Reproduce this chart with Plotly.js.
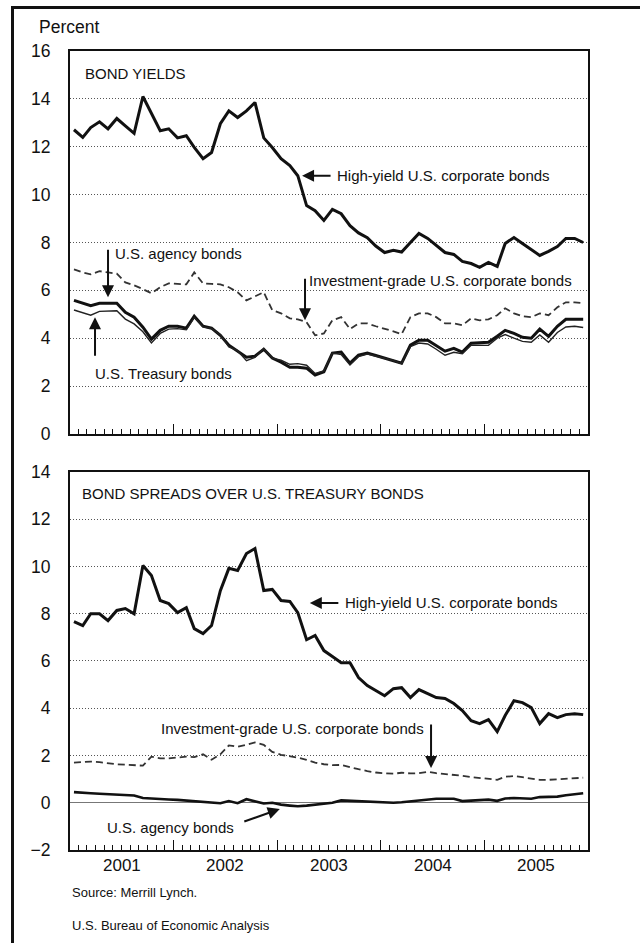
<!DOCTYPE html>
<html>
<head>
<meta charset="utf-8">
<script src="https://cdn.plot.ly/plotly-3.0.1.min.js"></script>
<style>
  html, body { margin: 0; padding: 0; background: #ffffff; }
  #wrap { position: relative; width: 640px; height: 943px; overflow: hidden; }
  #chart { position: absolute; left: 0; top: 0; width: 640px; height: 943px; }
  #frame { position: absolute; left: 11px; top: 6px; width: 640px; height: 950px;
           border-left: 3px solid #111; border-top: 3px solid #111; pointer-events: none; }
</style>
</head>
<body>
<div id="wrap">
  <div id="chart"></div>
  <div id="frame"></div>
</div>
<script>
// ---------- DATA (monthly, Jan 2001 - Dec 2005) ----------
const years = [2001, 2002, 2003, 2004, 2005];
const yearLabels = ["2001", "2002", "2003", "2004", "2005"];

// Bond yields, percent
const highYieldYield = [12.71,12.39,12.8,13.04,12.75,13.18,12.87,12.56,14.1,13.37,
  12.67,12.75,12.37,12.46,11.97,11.5,11.76,12.96,13.5,13.22,
  13.5,13.85,12.37,11.97,11.5,11.21,10.79,9.54,9.33,8.92,
  9.38,9.2,8.7,8.4,8.2,7.85,7.58,7.67,7.6,8.0,
  8.38,8.17,7.88,7.58,7.5,7.21,7.12,6.96,7.17,7.0,
  7.96,8.21,7.96,7.71,7.46,7.63,7.83,8.17,8.17,8.0];
const invGradeYield = [6.88,6.75,6.67,6.8,6.75,6.7,6.33,6.21,6.05,5.88,
  6.13,6.29,6.27,6.25,6.75,6.29,6.27,6.25,6.13,5.92,
  5.58,5.75,5.92,5.17,5.04,4.83,4.79,4.67,4.12,4.2,
  4.75,4.88,4.38,4.62,4.62,4.5,4.4,4.29,4.17,4.88,
  5.04,5.04,4.88,4.62,4.62,4.54,4.83,4.75,4.79,4.96,
  5.25,5.04,4.92,4.88,5.04,4.96,5.29,5.5,5.5,5.46];
const agencyYield = [5.58,5.45,5.36,5.46,5.46,5.46,5.08,4.88,4.46,3.96,
  4.33,4.5,4.5,4.42,4.92,4.5,4.42,4.12,3.71,3.46,
  3.21,3.25,3.54,3.17,3.0,2.79,2.79,2.75,2.46,2.6,
  3.38,3.42,2.96,3.29,3.38,3.28,3.18,3.07,2.96,3.71,
  3.92,3.92,3.71,3.46,3.58,3.42,3.79,3.81,3.83,4.08,
  4.33,4.2,4.04,4.0,4.38,4.08,4.5,4.79,4.79,4.79];
const treasuryYield = [5.18,5.05,4.96,5.12,5.15,5.15,4.8,4.6,4.27,3.8,
  4.2,4.38,4.4,4.35,4.86,4.47,4.41,4.14,3.64,3.48,
  3.06,3.2,3.57,3.17,3.08,2.91,2.94,2.87,2.53,2.63,
  3.38,3.32,2.88,3.23,3.34,3.26,3.18,3.07,2.94,3.65,
  3.8,3.76,3.54,3.29,3.41,3.35,3.71,3.71,3.7,4.0,
  4.15,4.0,3.87,3.83,4.14,3.83,4.24,4.47,4.5,4.45];

// Spreads over U.S. Treasury bonds, percentage points
const highYieldSpread = [7.67,7.5,8.0,8.0,7.71,8.14,8.22,8.0,10.04,9.62,
  8.56,8.43,8.05,8.26,7.37,7.16,7.5,8.98,9.92,9.83,
  10.55,10.76,8.98,9.03,8.56,8.52,8.05,6.9,7.08,6.44,
  6.19,5.93,5.93,5.3,4.96,4.75,4.53,4.83,4.87,4.45,
  4.79,4.62,4.45,4.41,4.2,3.9,3.47,3.35,3.52,3.01,
  3.69,4.32,4.24,4.03,3.35,3.77,3.6,3.73,3.77,3.73];
const invGradeSpread = [1.7,1.72,1.74,1.72,1.66,1.63,1.61,1.59,1.57,1.95,
  1.88,1.88,1.92,1.95,1.93,2.05,1.82,2.05,2.43,2.37,
  2.45,2.55,2.45,2.15,2.03,1.97,1.91,1.82,1.7,1.63,
  1.59,1.6,1.5,1.42,1.34,1.28,1.25,1.23,1.27,1.24,
  1.25,1.31,1.25,1.22,1.19,1.14,1.09,1.06,1.01,0.97,
  1.1,1.13,1.08,1.02,0.97,0.97,1.0,1.02,1.04,1.06];
const agencySpread = [0.45,0.44,0.4,0.38,0.36,0.34,0.33,0.31,0.2,0.17,
  0.15,0.14,0.12,0.09,0.07,0.03,0.01,-0.02,0.07,-0.02,
  0.15,0.05,-0.03,0.0,-0.08,-0.12,-0.15,-0.12,-0.07,-0.03,
  0.0,0.1,0.08,0.06,0.04,0.02,0.0,0.0,0.02,0.06,
  0.12,0.16,0.17,0.17,0.17,0.07,0.08,0.1,0.13,0.08,
  0.18,0.2,0.17,0.17,0.24,0.25,0.26,0.32,0.36,0.4];

const yieldTicks = [0, 2, 4, 6, 8, 10, 12, 14, 16];
const spreadTicks = [-2, 0, 2, 4, 6, 8, 10, 12, 14];

// ---------- build month dates (mid-month) ----------
const months = [];
years.forEach(y => { for (let m = 1; m <= 12; m++) months.push(y + "-" + String(m).padStart(2, "0") + "-15"); });
const yearStarts = years.concat([2006]).map(y => y + "-01-01");
const midYears = years.map(y => y + "-07-02");
const xRange = ["2001-01-01", "2006-01-01"];

const FONT = "Liberation Sans, Arial, Helvetica, sans-serif";
const INK = "#111";

function line(x, y, xa, ya, width, dash, color) {
  return { type: "scatter", mode: "lines", x: x, y: y, xaxis: xa, yaxis: ya,
           line: { color: color || INK, width: width, dash: dash || "solid" },
           hoverinfo: "skip", showlegend: false };
}

const traces = [
  line(months, invGradeYield, "x", "y", 1.8, "7px,4px", "#333"),
  line(months, highYieldYield, "x", "y", 3),
  line(months, agencyYield, "x", "y", 3),
  line(months, treasuryYield, "x", "y", 1.4, "solid", "#222"),
  line(months, invGradeSpread, "x2", "y2", 1.8, "7px,4px", "#333"),
  line(months, highYieldSpread, "x2", "y2", 3),
  line(months, agencySpread, "x2", "y2", 2.6)
];

function xTickAxis(anchor) {
  return {
    type: "date", range: xRange, anchor: anchor, domain: [0, 1],
    showline: true, mirror: true, linecolor: INK, linewidth: 2,
    ticks: "inside", tickmode: "array", tickvals: yearStarts, ticklen: 10,
    tickcolor: INK, tickwidth: 1, showticklabels: false,
    showgrid: false, zeroline: false, fixedrange: true,
    minor: { tickmode: "linear", tick0: "2001-01-01", dtick: "M1", ticks: "inside",
             ticklen: 5, tickcolor: INK, tickwidth: 1, showgrid: false }
  };
}
function yAxis(domain, range, ticks, anchor) {
  return {
    domain: domain, range: range, anchor: anchor, tickmode: "array", tickvals: ticks,
    showline: true, mirror: true, linecolor: INK, linewidth: 2,
    ticks: "", ticklabelstandoff: 14, tickfont: { family: FONT, size: 17.5, color: INK },
    showgrid: true, gridcolor: "#555", gridwidth: 1, griddash: "1px,2px",
    zeroline: false, fixedrange: true
  };
}

const TOP_LO = 0.5207, BOT_HI = 0.4731;

const layout = {
  width: 640, height: 943,
  margin: { l: 70, r: 52, t: 51, b: 93 },
  paper_bgcolor: "#ffffff", plot_bgcolor: "#ffffff",
  font: { family: FONT, color: INK, size: 15 },
  showlegend: false,
  xaxis: xTickAxis("y"),
  xaxis2: xTickAxis("y2"),
  yaxis: yAxis([TOP_LO, 1], [0, 16], yieldTicks, "x"),
  yaxis2: Object.assign(yAxis([0, BOT_HI], [-2, 14], spreadTicks, "x2"),
                        { zeroline: true, zerolinecolor: "#777", zerolinewidth: 1 }),
  annotations: []
};

function txt(text, x, y, yref, xanchor, size) {
  return { text: text, x: x, y: y, xref: "paper", yref: yref, xanchor: xanchor || "left",
           yanchor: "middle", showarrow: false, font: { family: FONT, size: size || 15, color: INK } };
}
function arrow(x, y, yref, ax, ay) {
  return { text: "", x: x, y: y, xref: "paper", yref: yref, ax: ax, ay: ay,
           showarrow: true, arrowhead: 2, arrowsize: 1.2, arrowwidth: 2, arrowcolor: INK, standoff: 0 };
}

// year labels centred under each year
midYears.forEach((d, i) => {
  layout.annotations.push({ text: yearLabels[i], x: d, y: -0.02, xref: "x2", yref: "paper",
    xanchor: "center", yanchor: "middle", showarrow: false,
    font: { family: FONT, size: 17, color: INK } });
});

layout.annotations.push(
  { text: "Percent", x: -0.0637, y: 1.030, xref: "paper", yref: "paper", xanchor: "left", yanchor: "middle",
    showarrow: false, font: { family: FONT, size: 17.5, color: INK } },
  txt("BOND YIELDS", 0.025, 15.08, "y"),
  txt("BOND SPREADS OVER U.S. TREASURY BONDS", 0.0193, 13.11, "y2"),
  // top panel
  txt("High-yield U.S. corporate bonds", 0.512, 10.79, "y"),
  arrow(0.448, 10.79, "y", 30, 0),
  txt("U.S. agency bonds", 0.083, 7.54, "y"),
  arrow(0.0734, 5.71, "y", 0, -49),
  txt("U.S. Treasury bonds", 0.0444, 2.54, "y"),
  arrow(0.0483, 4.875, "y", 0, 40),
  txt("Investment-grade U.S. corporate bonds", 0.4575, 6.42, "y"),
  arrow(0.4537, 4.75, "y", 0, -43),
  // bottom panel
  txt("High-yield U.S. corporate bonds", 0.527, 8.455, "y2"),
  arrow(0.463, 8.455, "y2", 30, 0),
  txt("Investment-grade U.S. corporate bonds", 0.687, 3.16, "y2", "right"),
  arrow(0.697, 1.47, "y2", 0, -45),
  txt("U.S. agency bonds", 0.32, -1.03, "y2", "right"),
  arrow(0.405, -0.265, "y2", -37, 13),
  // source notes
  { text: "Source: Merrill Lynch.", x: 0, y: -0.0538, xref: "paper", yref: "paper", xanchor: "left",
    yanchor: "middle", showarrow: false, font: { family: FONT, size: 13, color: INK } },
  { text: "U.S. Bureau of Economic Analysis", x: 0, y: -0.0939, xref: "paper", yref: "paper", xanchor: "left",
    yanchor: "middle", showarrow: false, font: { family: FONT, size: 13, color: INK } }
);

Plotly.newPlot("chart", traces, layout, { displayModeBar: false, staticPlot: true });
</script>
</body>
</html>
